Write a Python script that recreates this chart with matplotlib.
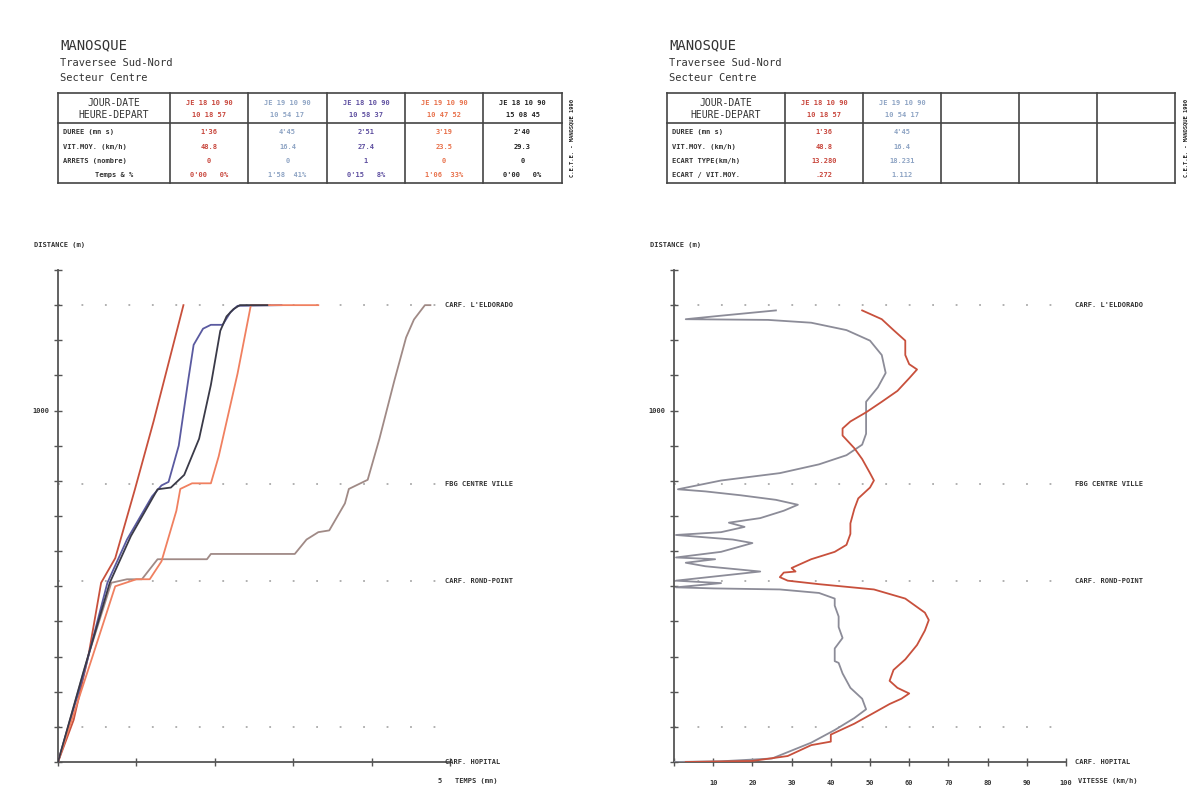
import matplotlib
matplotlib.use("Agg")
import matplotlib.pyplot as plt
from matplotlib.lines import Line2D

plt.rcParams['font.family'] = ['DejaVu Sans Mono']

# ---- donnees ----
# temps (mn) / distance (m) pour chaque traversee
t_run1 = [0, 0.2, 0.39, 0.55, 0.73, 0.98, 1.22, 1.6]
d_run1 = [0, 120, 305, 510, 580, 775, 970, 1300]
t_run2 = [0, 0.39, 0.68, 0.88, 1.07, 1.27, 1.9, 1.95, 3.02, 3.17, 3.32, 3.46, 3.66, 3.71, 3.95, 4.1, 4.29, 4.44, 4.54, 4.68, 4.75]
d_run2 = [0, 305, 510, 520, 520, 577, 577, 592, 592, 633, 654, 659, 736, 777, 803, 920, 1085, 1208, 1259, 1300, 1300]
t_run3 = [0, 0.32, 0.63, 0.88, 1.2, 1.32, 1.41, 1.54, 1.66, 1.73, 1.85, 1.95, 2.1, 2.2, 2.29, 2.85]
d_run3 = [0, 243, 510, 633, 756, 787, 797, 900, 1085, 1187, 1233, 1244, 1244, 1280, 1298, 1300]
t_run4 = [0, 0.44, 0.73, 1.0, 1.17, 1.32, 1.51, 1.56, 1.71, 1.95, 2.05, 2.29, 2.46, 3.32]
d_run4 = [0, 300, 500, 520, 520, 571, 715, 777, 793, 793, 870, 1105, 1300, 1300]
t_run5 = [0, 0.32, 0.66, 0.93, 1.27, 1.44, 1.61, 1.8, 1.95, 2.07, 2.15, 2.24, 2.32, 2.67]
d_run5 = [0, 253, 510, 643, 776, 781, 817, 920, 1073, 1227, 1268, 1289, 1300, 1300]

# vitesse (km/h) / distance (m)
v_red = [3, 20, 29, 35, 40, 40, 46, 51, 55, 58, 60, 57, 55, 56, 59, 62, 64, 65, 64, 59, 51, 37, 29, 27, 28, 31, 30, 32, 35,
         41, 44, 45, 45, 46, 47, 50, 51, 50, 48, 46, 43, 43, 45, 49, 53, 57, 60, 62, 60, 59, 59, 56, 53, 48]
dv_red = [0, 3, 17, 48, 58, 78, 109, 140, 165, 180, 195, 211, 231, 262, 292, 333, 374, 404, 425, 465, 491, 506, 516, 526, 539,
          542, 552, 562, 577, 598, 618, 649, 679, 720, 750, 781, 801, 822, 862, 893, 929, 949, 969, 995, 1025, 1056, 1092,
          1117, 1132, 1158, 1199, 1229, 1260, 1285]
v_gray = [0, 12, 25, 29, 35, 41, 46, 49, 48, 45, 43, 42, 41, 41, 43, 42, 42, 41, 41, 37, 27, 10, 0.5, 12, 0.5, 22, 8, 3, 10.5,
          0.5, 12, 20, 15, 0.5, 12, 18, 14, 22, 28, 31.6, 26, 17, 8, 1, 12, 27, 37, 44, 48, 49, 49, 49, 52, 54, 53, 50, 44,
          35, 24, 3, 12, 26]
dv_gray = [0, 2, 10, 28, 55, 91, 125, 150, 180, 211, 252, 282, 287, 323, 353, 384, 414, 445, 465, 481, 491, 494, 497, 509, 516,
           542, 557, 567, 577, 582, 598, 623, 633, 646, 654, 669, 681, 694, 715, 732, 746, 759, 770, 776, 801, 822, 847, 873,
           903, 934, 985, 1025, 1066, 1107, 1158, 1199, 1229, 1250, 1258, 1260, 1270, 1285]

reperes = ["CARF. HOPITAL", "CARF. ROND-POINT", "FBG CENTRE VILLE", "CARF. L'ELDORADO"]
reperes_d = [0, 515, 790, 1300]
pointilles_d = [100, 515, 790, 1300]

col_colors = ['#c8463c', '#8ea4c4', '#5e4fa0', '#e8704a', '#222222']
curve_colors = ['#c8503c', '#a08a86', '#5a5aa0', '#f08060', '#3a3a48']

jours = ["JE 18 10 90", "JE 19 10 90", "JE 18 10 90", "JE 19 10 90", "JE 18 10 90"]
heures = ["10 18 57", "10 54 17", "10 58 37", "10 47 52", "15 08 45"]
durees = ["1'36", "4'45", "2'51", "3'19", "2'40"]
vitesses = ["48.8", "16.4", "27.4", "23.5", "29.3"]
arrets = ["0", "0", "1", "0", "0"]
temps_pct = ["0'00   0%", "1'58  41%", "0'15   8%", "1'06  33%", "0'00   0%"]
ecarts = ["13.280", "18.231"]
ecart_rel = [".272", "1.112"]

fig = plt.figure(figsize=(12.01, 7.88), dpi=100)
fig.patch.set_facecolor('white')

# calque en pixels pour les entetes et tableaux
ov = fig.add_axes([0, 0, 1, 1])
ov.set_xlim(0, 1201)
ov.set_ylim(788, 0)
ov.axis('off')

def ligne(x0, y0, x1, y1, lw=1.2):
    ov.add_line(Line2D([x0, x1], [y0, y1], color='#444444', lw=lw))

def entete(x0):
    ov.text(x0 + 2, 45, "MANOSQUE", fontsize=10, color='#333333', va='center')
    ov.text(x0 + 2, 63, "Traversee Sud-Nord", fontsize=7.5, color='#333333', va='center')
    ov.text(x0 + 2, 78, "Secteur Centre", fontsize=7.5, color='#333333', va='center')

def tableau(cols, labels, rows, ncol_data, strip_x):
    top, mid, bot = 93, 123, 183
    ligne(cols[0], top, cols[-1], top)
    ligne(cols[0], mid, cols[-1], mid)
    ligne(cols[0], bot, cols[-1], bot)
    for x in cols:
        ligne(x, top, x, bot)
    ov.text((cols[0] + cols[1]) / 2, 103, "JOUR-DATE", fontsize=7, ha='center', va='center', color='#333333')
    ov.text((cols[0] + cols[1]) / 2, 115, "HEURE-DEPART", fontsize=7, ha='center', va='center', color='#333333')
    for i in range(ncol_data):
        cx = (cols[i + 1] + cols[i + 2]) / 2
        ov.text(cx, 103, jours[i], fontsize=5, ha='center', va='center', color=col_colors[i], fontweight='bold')
        ov.text(cx, 115, heures[i], fontsize=5, ha='center', va='center', color=col_colors[i], fontweight='bold')
    ys = [132, 147, 161, 175]
    for j, (lab, vals) in enumerate(zip(labels, rows)):
        ha = 'center' if lab.strip().startswith("Temps") else 'left'
        lx = (cols[0] + cols[1]) / 2 if ha == 'center' else cols[0] + 5
        ov.text(lx, ys[j], lab.strip(), fontsize=5, ha=ha, va='center', color='#333333', fontweight='bold')
        for i in range(ncol_data):
            cx = (cols[i + 1] + cols[i + 2]) / 2
            ov.text(cx, ys[j], vals[i], fontsize=5, ha='center', va='center', color=col_colors[i], fontweight='bold')
    ov.text(strip_x, (top + bot) / 2, "C.E.T.E. - MANOSQUE 1990", fontsize=4, rotation=90,
            ha='center', va='center', color='#222222', fontweight='bold')

entete(58)
tableau([58, 170, 248, 327, 405, 483, 562],
        ["DUREE (mn s)", "VIT.MOY. (km/h)", "ARRETS (nombre)", "Temps & %"],
        [durees, vitesses, arrets, temps_pct], 5, 572)
entete(667)
tableau([667, 785, 863, 941, 1019, 1097, 1175],
        ["DUREE (mn s)", "VIT.MOY. (km/h)", "ECART TYPE(km/h)", "ECART / VIT.MOY."],
        [durees, vitesses, ecarts, ecart_rel], 2, 1186)

def style_axe(ax, xmax):
    for s in ['top', 'right']:
        ax.spines[s].set_visible(False)
    for s in ['left', 'bottom']:
        ax.spines[s].set_color('#555555')
        ax.spines[s].set_linewidth(1.3)
    ax.set_ylim(0, 1400)
    ax.set_yticks(range(0, 1401, 100))
    ax.set_yticklabels(['1000' if v == 1000 else '' for v in range(0, 1401, 100)],
                       fontsize=5, fontweight='bold', color='#333333')
    ax.tick_params(axis='both', direction='inout', length=6, width=1, color='#555555')
    ax.tick_params(axis='x', pad=10)
    for d in pointilles_d:
        ax.plot([0, xmax], [d, d], color='#aaaaaa', lw=1.3, linestyle=(0, (1, 12)), zorder=1)
    ax.set_facecolor('none')

# ---- graphique gauche : distance / temps ----
axL = fig.add_axes([58 / 1201, 26 / 788, 392 / 1201, 492 / 788])
style_axe(axL, 5)
axL.set_xlim(0, 5)
axL.set_xticks([0, 1, 2, 3, 4, 5])
axL.set_xticklabels([])
runs = [(t_run1, d_run1), (t_run2, d_run2), (t_run3, d_run3), (t_run4, d_run4), (t_run5, d_run5)]
for (t, d), c in zip(runs, curve_colors):
    axL.plot(t, d, color=c, lw=1.3, zorder=3)
for nom, d in zip(reperes, reperes_d):
    axL.text(4.93, d, nom, fontsize=5, fontweight='bold', color='#333333', va='center', clip_on=False)
axL.text(4.85, -55, "5   TEMPS (mn)", fontsize=5, fontweight='bold', color='#333333', va='center', clip_on=False)
axL.text(-0.3, 1470, "DISTANCE (m)", fontsize=5, fontweight='bold', color='#333333', va='center', clip_on=False)

# ---- graphique droit : distance / vitesse ----
axR = fig.add_axes([674 / 1201, 26 / 788, 392 / 1201, 492 / 788])
style_axe(axR, 100)
axR.set_xlim(0, 100)
axR.set_xticks(range(0, 101, 10))
axR.set_xticklabels([''] + [str(v) for v in range(10, 101, 10)], fontsize=5, fontweight='bold', color='#333333')
axR.plot(v_gray, dv_gray, color='#8c8c98', lw=1.3, zorder=3)
axR.plot(v_red, dv_red, color='#c8503c', lw=1.3, zorder=3)
for nom, d in zip(reperes, reperes_d):
    axR.text(102.3, d, nom, fontsize=5, fontweight='bold', color='#333333', va='center', clip_on=False)
axR.text(103, -55, "VITESSE (km/h)", fontsize=5, fontweight='bold', color='#333333', va='center', clip_on=False)
axR.text(-6, 1470, "DISTANCE (m)", fontsize=5, fontweight='bold', color='#333333', va='center', clip_on=False)

fig.savefig("out.png", dpi=100, facecolor='white')
